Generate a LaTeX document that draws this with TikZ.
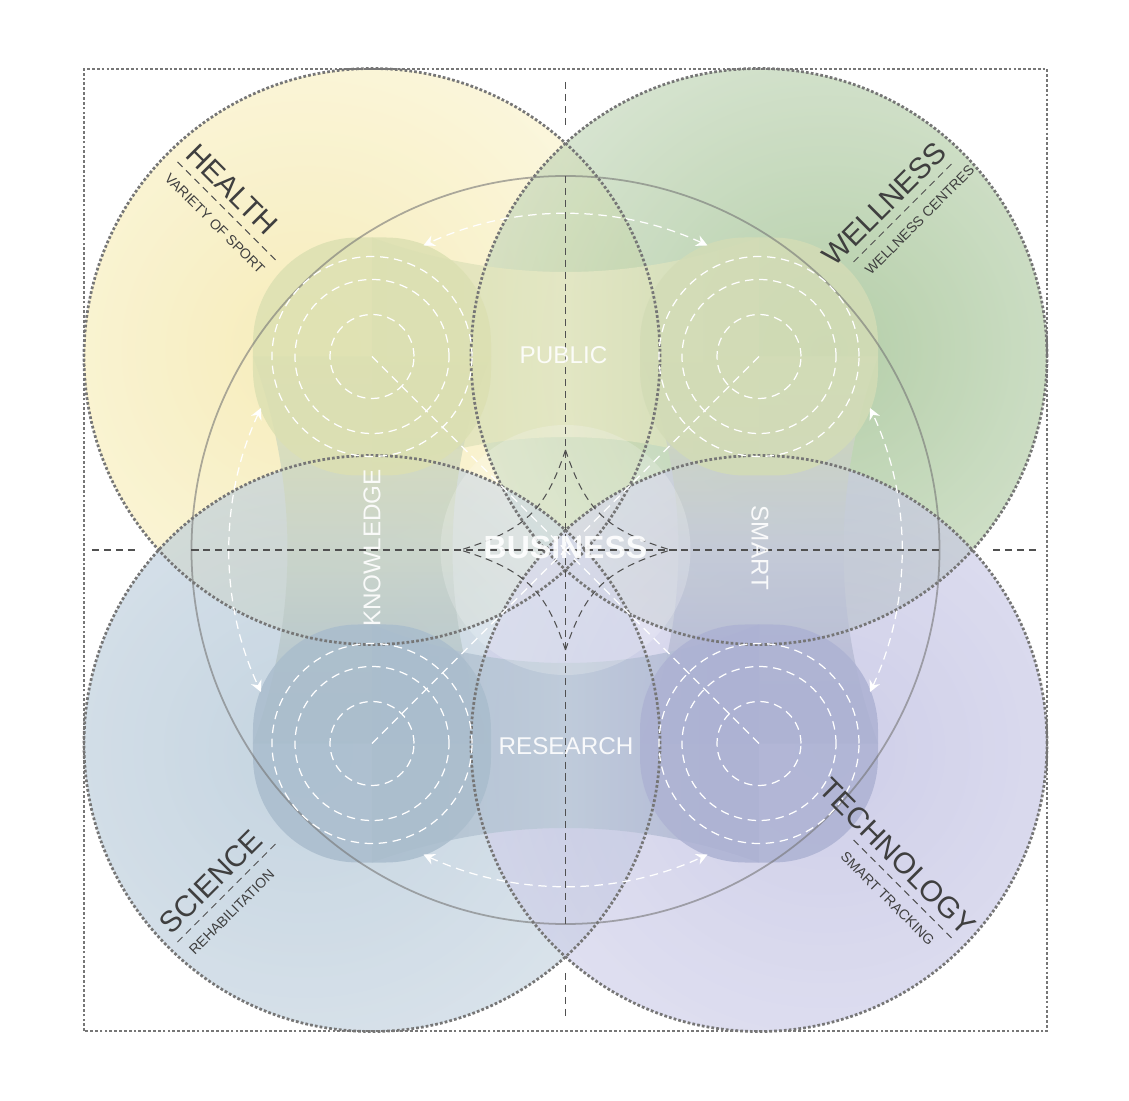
\documentclass[tikz,border=0pt]{standalone}
\usepackage{fontspec}
\setmainfont{Liberation Sans}
\usetikzlibrary{arrows.meta}

\definecolor{healthin}{HTML}{F2E296}
\definecolor{healthout}{HTML}{FAF4D2}
\definecolor{wellin}{HTML}{8CB47A}
\definecolor{wellout}{HTML}{CADBC1}
\definecolor{sciin}{HTML}{A5BDD0}
\definecolor{sciout}{HTML}{CAD7E2}
\definecolor{techin}{HTML}{B4B4DC}
\definecolor{techout}{HTML}{D3D3EB}
\definecolor{blobtl}{HTML}{DCE0B2}
\definecolor{blobtr}{HTML}{D3DCB6}
\definecolor{blobbl}{HTML}{AABDCD}
\definecolor{blobbr}{HTML}{ADB2D3}
\definecolor{linegray}{HTML}{767676}
\definecolor{axisgray}{HTML}{505050}
\definecolor{textgray}{HTML}{3F3F3F}

\tikzset{
  dotline/.style={draw=linegray, line width=0.78pt, dash pattern=on 0.78pt off 0.6pt},
  axisline/.style={draw=axisgray, line width=0.3pt, dash pattern=on 2pt off 1.4pt},
  ring/.style={draw=white, line width=0.35pt, dash pattern=on 2.4pt off 1.6pt},
  flow/.style={ring, <->},
  zone/.style={text=white, text opacity=0.9, inner sep=0pt, font=\fontsize{6.9}{8}\selectfont},
  title/.style={text=textgray, inner sep=0pt, font=\fontsize{8.4}{10}\selectfont},
  subtitle/.style={text=textgray, inner sep=0pt, font=\fontsize{4}{5}\selectfont}
}

\begin{document}
\begin{tikzpicture}[>={Stealth[length=3.2pt,width=3.2pt]}]
	\useasboundingbox (-5.655,-5.5) rectangle (5.635,5.5);
	% Centres
	\coordinate (O) at (0,0);
	\coordinate (tl) at (-1.935, 1.935);
	\coordinate (tr) at ( 1.935, 1.935);
	\coordinate (bl) at (-1.935,-1.935);
	\coordinate (br) at ( 1.935,-1.935);
	% Big circles
	\foreach \sx/\sy/\cin/\cout in {-1/1/healthin/healthout, 1/1/wellin/wellout, -1/-1/sciin/sciout, 1/-1/techin/techout}
	{
		\begin{scope}
			\clip (\sx*1.935,\sy*1.935) circle (2.88);
			\shade[inner color=\cin, outer color=\cout, opacity=0.65] (\sx*2.6,\sy*2.0) circle (3.9);
		\end{scope}
	}
	% Bands
	\shade[left color=blobtl, right color=blobtr, middle color={rgb,255:red,230;green,232;blue,198}, opacity=0.85]
		(-1.935,3.125) .. controls (-0.645,2.665) and (0.645,2.665) .. (1.935,3.125)
		-- (1.935,0.745) .. controls (0.645,1.258) and (-0.645,1.258) .. (-1.935,0.745) -- cycle;
	\shade[top color=blobtl, bottom color=blobbl, middle color={rgb,255:red,202;green,212;blue,201}, opacity=0.85]
		(-3.125,1.935) .. controls (-2.665,0.645) and (-2.665,-0.645) .. (-3.125,-1.935)
		-- (-0.745,-1.935) .. controls (-1.258,-0.645) and (-1.258,0.645) .. (-0.745,1.935) -- cycle;
	\shade[top color=blobtr, bottom color=blobbr, middle color={rgb,255:red,196;green,202;blue,215}, opacity=0.85]
		(3.125,1.935) .. controls (2.665,0.645) and (2.665,-0.645) .. (3.125,-1.935)
		-- (0.745,-1.935) .. controls (1.258,-0.645) and (1.258,0.645) .. (0.745,1.935) -- cycle;
	\shade[left color=blobbl, right color=blobbr, middle color={rgb,255:red,189;green,202;blue,216}, opacity=0.85]
		(-1.935,-3.125) .. controls (-0.645,-2.665) and (0.645,-2.665) .. (1.935,-3.125)
		-- (1.935,-0.745) .. controls (0.645,-1.258) and (-0.645,-1.258) .. (-1.935,-0.745) -- cycle;
	% Blobs
	\foreach \p/\c in {tl/blobtl, tr/blobtr, bl/blobbl, br/blobbr}
		\fill[\c, opacity=0.85, rounded corners=1.05cm] (\p) ++(-1.19,-1.19) rectangle ++(2.38,2.38);
	\fill[white, opacity=0.2] (O) circle (1.25);
	% Outlines
	\draw[linegray, opacity=0.6, line width=0.5pt] (O) circle (3.74);
	\foreach \p in {tl,tr,bl,br}
		\draw[dotline] (\p) circle (2.88);
	\draw[dotline] (-4.815,-4.81) rectangle (4.815,4.81);
	% Axes
	\draw[axisline] (0,4.68) -- (0,4.23);
	\draw[axisline] (0,3.74) -- (0,-3.74);
	\draw[axisline] (0,-4.23) -- (0,-4.68);
	\draw[axisline] (-4.735,0) -- (-4.275,0);
	\draw[axisline] (-3.74,0) -- (3.74,0);
	\draw[axisline] (4.275,0) -- (4.735,0);
	% Star
	\foreach \sx/\sy in {1/1,-1/1,-1/-1,1/-1}
		\draw[axisline] (0,\sy) .. controls (0.2*\sx,0.4*\sy) and (0.4*\sx,0.2*\sy) .. (1.05*\sx,0);
	% Rings
	\foreach \p in {tl,tr,bl,br}
	{
		\foreach \r in {0.42,0.77,1.0}
			\draw[ring] (\p) circle (\r);
		\draw[ring] (\p) -- (O);
	}
	% Flows
	\foreach \a in {0,90,180,270}
		\draw[flow] (\a-25:3.36) arc (\a-25:\a+25:3.36);
	% Zones
	\node[zone] (public) at (-0.02,1.95) {PUBLIC};
	\node[zone, rotate=90] (knowledge) at (-1.935,0.02) {KNOWLEDGE};
	\node[zone, rotate=-90] (smart) at (1.945,0.02) {SMART};
	\node[zone] (research) at (0.005,-1.96) {RESEARCH};
	\node[zone, font=\bfseries\fontsize{9.1}{10}\selectfont] (business) at (0,0.03) {BUSINESS};
	% Tags
	\foreach \x/\y/\ang/\tx/\ta/\main/\sub/\nm in {
		-3.88/3.88/-45/0/west/HEALTH/VARIETY OF SPORT/health,
		2.88/2.88/45/1.44/east/WELLNESS/WELLNESS CENTRES/wellness,
		-3.88/-3.92/45/0/west/SCIENCE/REHABILITATION/science,
		2.88/-2.90/-45/1.47/east/TECHNOLOGY/SMART TRACKING/technology}
	{
		\begin{scope}[shift={(\x,\y)}, rotate=\ang, transform shape]
			\draw[axisline] (0,0) -- (1.42,0);
			\node[title, anchor=base \ta] (\nm) at (\tx,0.09) {\main};
			\node[subtitle, anchor=base west] (\nm-sub) at (0.02,-0.22) {\sub};
		\end{scope}
	}
\end{tikzpicture}
\end{document}
